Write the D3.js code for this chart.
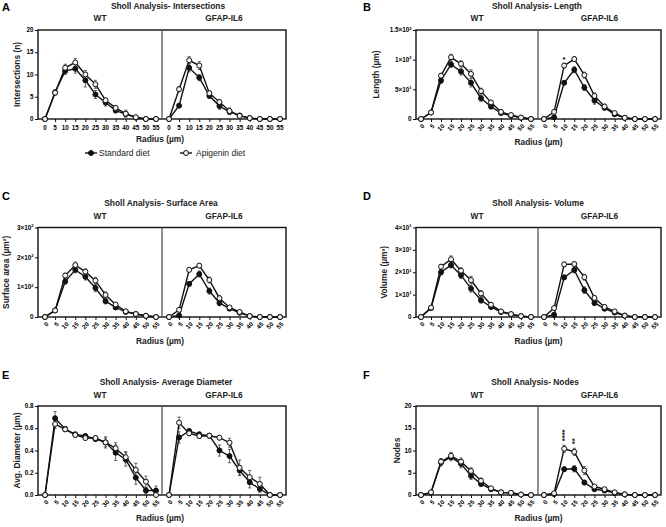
<!DOCTYPE html>
<html><head><meta charset="utf-8">
<script src="https://cdn.jsdelivr.net/npm/d3@7"></script>
<style>body{margin:0;background:#fff} svg{display:block} text{font-family:"Liberation Sans",Arial,sans-serif}</style>
</head><body><svg id="c" width="666" height="527"></svg>
<script>
// ---------- data ----------
const radius = ["0","5","10","15","20","25","30","35","40","45","50","55"];
const groups = ["WT","GFAP-IL6"];
const seriesNames = ["Standard diet","Apigenin diet"];

// A: Intersections
const intWTStd    = [0, 6.0, 10.8, 11.3, 8.7, 5.5, 3.7, 1.9, 1.1, 0.3, 0, 0];
const intWTStdErr = [0, 0.5, 0.8, 1.0, 1.5, 0.9, 0.8, 0.5, 0.5, 0.2, 0, 0];
const intWTApi    = [0, 5.9, 11.5, 12.7, 10.0, 7.8, 4.2, 2.5, 1.2, 0.4, 0, 0];
const intWTApiErr = [0, 0.5, 0.8, 0.9, 0.9, 0.9, 0.5, 0.5, 0.8, 0.3, 0, 0];
const intIL6Std    = [0, 3.0, 11.5, 9.3, 5.2, 2.9, 1.6, 0.8, 0.2, 0, 0, 0];
const intIL6StdErr = [0, 0.4, 0.9, 0.7, 0.6, 0.7, 0.5, 0.3, 0.1, 0, 0, 0];
const intIL6Api    = [0, 6.7, 13.2, 12.0, 5.8, 3.8, 1.8, 0.7, 0.2, 0, 0, 0];
const intIL6ApiErr = [0, 0.6, 0.8, 0.9, 0.5, 0.6, 0.7, 0.3, 0.1, 0, 0, 0];
const intTicks = [0, 5, 10, 15, 20];
const intTickLabels = ["0","5","10","15","20"];

// B: Length
const lenWTStd    = [0, 11, 65, 92, 80, 61, 35, 21, 10, 5.6, 2, 0];
const lenWTStdErr = [0, 1.5, 5, 5, 6, 7, 5, 4, 2, 1, 0.5, 0];
const lenWTApi    = [0, 11, 73, 104, 93, 76, 47, 28, 12, 6.7, 2.5, 0];
const lenWTApiErr = [0, 1.5, 4, 5, 5, 7, 5, 3, 2, 1, 0.5, 0];
const lenIL6Std    = [0, 3, 61, 83, 53, 31, 19, 8, 2, 0, 0, 0];
const lenIL6StdErr = [0, 1, 3, 5, 5, 6, 4, 2, 0.5, 0, 0, 0];
const lenIL6Api    = [0, 12, 90, 101, 74, 39, 21, 10, 2, 0, 0, 0];
const lenIL6ApiErr = [0, 2, 4, 4, 5, 5, 4, 2, 0.5, 0, 0, 0];
const lenTicks = [0, 50, 100, 150];
const lenTickLabels = ["0","5×10^1","1×10^2","1.5×10^2"];

// C: Surface area
const surWTStd    = [0, 22, 119, 158, 135, 97, 53, 32, 17, 10, 4, 0];
const surWTStdErr = [0, 4, 9, 10, 11, 12, 9, 6, 3, 2, 1, 0];
const surWTApi    = [0, 22, 139, 174, 152, 122, 74, 42, 19, 10, 4, 0];
const surWTApiErr = [0, 4, 8, 10, 9, 11, 10, 6, 3, 2, 1, 0];
const surIL6Std    = [0, 5, 111, 144, 87, 47, 28, 14, 3, 0, 0, 0];
const surIL6StdErr = [0, 2, 6, 10, 10, 9, 6, 3, 1, 0, 0, 0];
const surIL6Api    = [0, 24, 158, 172, 124, 63, 32, 17, 3, 0, 0, 0];
const surIL6ApiErr = [0, 4, 6, 7, 10, 8, 6, 4, 1, 0, 0, 0];
const surTicks = [0, 100, 200, 300];
const surTickLabels = ["0","1×10^2","2×10^2","3×10^2"];

// D: Volume
const volWTStd    = [0, 4, 20, 23.2, 18.7, 12.7, 7.5, 4.5, 2.2, 1.2, 0.4, 0];
const volWTStdErr = [0, 0.6, 1.2, 1.3, 1.5, 1.6, 1.3, 0.8, 0.5, 0.3, 0.1, 0];
const volWTApi    = [0, 4.2, 22.5, 25.8, 20.7, 16.5, 10.5, 5.5, 2.5, 1.3, 0.4, 0];
const volWTApiErr = [0, 0.6, 1.0, 1.5, 1.3, 1.7, 1.3, 0.8, 0.5, 0.3, 0.1, 0];
const volIL6Std    = [0, 1, 17.7, 21, 12, 6.3, 3.7, 2, 0.6, 0, 0, 0];
const volIL6StdErr = [0, 0.3, 1.0, 1.3, 1.5, 1.2, 0.8, 0.5, 0.2, 0, 0, 0];
const volIL6Api    = [0, 4, 23.5, 23.7, 17.8, 8.5, 4.5, 2.5, 0.6, 0, 0, 0];
const volIL6ApiErr = [0, 0.6, 1.0, 0.9, 1.3, 1.1, 1.0, 0.6, 0.2, 0, 0, 0];
const volTicks = [0, 10, 20, 30, 40];
const volTickLabels = ["0","1×10^1","2×10^1","3×10^1","4×10^1"];

// E: Average diameter
const diaWTStd    = [0, 0.69, 0.593, 0.545, 0.53, 0.503, 0.473, 0.38, 0.32, 0.156, 0.04, 0.04];
const diaWTStdErr = [0, 0.06, 0.02, 0.02, 0.02, 0.02, 0.05, 0.07, 0.06, 0.06, 0.03, 0.04];
const diaWTApi    = [0, 0.638, 0.59, 0.54, 0.512, 0.512, 0.473, 0.42, 0.34, 0.225, 0.12, 0];
const diaWTApiErr = [0, 0.04, 0.02, 0.02, 0.02, 0.02, 0.04, 0.05, 0.05, 0.06, 0.05, 0.03];
const diaIL6Std    = [0, 0.518, 0.575, 0.545, 0.533, 0.40, 0.35, 0.22, 0.114, 0.054, 0, 0];
const diaIL6StdErr = [0, 0.05, 0.02, 0.02, 0.02, 0.05, 0.06, 0.04, 0.05, 0.03, 0, 0];
const diaIL6Api    = [0, 0.65, 0.554, 0.53, 0.533, 0.515, 0.47, 0.245, 0.16, 0.1, 0, 0];
const diaIL6ApiErr = [0, 0.05, 0.02, 0.02, 0.02, 0.02, 0.04, 0.07, 0.06, 0.06, 0, 0];
const diaTicks = [0, 0.2, 0.4, 0.6, 0.8];
const diaTickLabels = ["0.0","0.2","0.4","0.6","0.8"];

// F: Nodes
const nodWTStd    = [0, 0.5, 7.3, 8.5, 7.0, 4.3, 2.5, 1.3, 0.6, 0.45, 0.1, 0];
const nodWTStdErr = [0, 0.2, 0.8, 0.8, 0.9, 0.8, 0.6, 0.3, 0.2, 0.2, 0.05, 0];
const nodWTApi    = [0, 0.6, 7.5, 8.8, 7.5, 5.4, 3.2, 1.5, 0.6, 0.5, 0.1, 0];
const nodWTApiErr = [0, 0.2, 0.7, 0.8, 0.8, 0.7, 0.6, 0.3, 0.2, 0.2, 0.05, 0];
const nodIL6Std    = [0, 0.2, 5.8, 5.9, 2.8, 1.3, 1.0, 0.45, 0.15, 0, 0, 0];
const nodIL6StdErr = [0, 0.1, 0.5, 0.7, 0.5, 0.3, 0.3, 0.2, 0.1, 0, 0, 0];
const nodIL6Api    = [0, 0.4, 10.4, 9.7, 5.5, 1.9, 1.3, 0.6, 0.15, 0, 0, 0];
const nodIL6ApiErr = [0, 0.2, 0.8, 0.8, 0.9, 0.4, 0.3, 0.2, 0.1, 0, 0, 0];
const nodTicks = [0, 5, 10, 15, 20];
const nodTickLabels = ["0","5","10","15","20"];

// significance marks (group, radius, label)
const lenStars = [["GFAP-IL6","10","*"]];
const nodStars = [["GFAP-IL6","10","****"],["GFAP-IL6","15","**"]];

// ---------- layout ----------
const cols = [
  {boxL:38, boxR:286, div:162, xr:[[45,156],[169,280]]},
  {boxL:416, boxR:661, div:538, xr:[[421,531],[544,655]]}
];
const rows = [
  {top:30, bottom:119, letterY:11, titleY:9, grpY:21, radY:145},
  {top:227.5, bottom:317, letterY:200, titleY:206, grpY:219, radY:344},
  {top:406, bottom:495, letterY:379, titleY:385, grpY:398, radY:521}
];

const panels = [
  {letter:"A", col:0, row:0, title:"Sholl Analysis- Intersections", titleX:168, yLabel:"Intersections (n)", yLabX:17,
   ticks:intTicks, tickLabels:intTickLabels, rotate:false, legend:true, stars:[],
   series:[[intWTStd,intWTStdErr,intWTApi,intWTApiErr],[intIL6Std,intIL6StdErr,intIL6Api,intIL6ApiErr]]},
  {letter:"B", col:1, row:0, title:"Sholl Analysis- Length", titleX:537, yLabel:"Length (µm)", yLabX:376,
   ticks:lenTicks, tickLabels:lenTickLabels, rotate:true, legend:false, stars:lenStars,
   series:[[lenWTStd,lenWTStdErr,lenWTApi,lenWTApiErr],[lenIL6Std,lenIL6StdErr,lenIL6Api,lenIL6ApiErr]]},
  {letter:"C", col:0, row:1, title:"Sholl Analysis- Surface Area", titleX:161, yLabel:"Surface area (µm²)", yLabX:6,
   ticks:surTicks, tickLabels:surTickLabels, rotate:true, legend:false, stars:[],
   series:[[surWTStd,surWTStdErr,surWTApi,surWTApiErr],[surIL6Std,surIL6StdErr,surIL6Api,surIL6ApiErr]]},
  {letter:"D", col:1, row:1, title:"Sholl Analysis- Volume", titleX:538, yLabel:"Volume (µm³)", yLabX:384,
   ticks:volTicks, tickLabels:volTickLabels, rotate:true, legend:false, stars:[],
   series:[[volWTStd,volWTStdErr,volWTApi,volWTApiErr],[volIL6Std,volIL6StdErr,volIL6Api,volIL6ApiErr]]},
  {letter:"E", col:0, row:2, title:"Sholl Analysis- Average Diameter", titleX:166, yLabel:"Avg. Diameter (µm)", yLabX:17,
   ticks:diaTicks, tickLabels:diaTickLabels, rotate:true, legend:false, stars:[],
   series:[[diaWTStd,diaWTStdErr,diaWTApi,diaWTApiErr],[diaIL6Std,diaIL6StdErr,diaIL6Api,diaIL6ApiErr]]},
  {letter:"F", col:1, row:2, title:"Sholl Analysis- Nodes", titleX:535, yLabel:"Nodes", yLabX:397,
   ticks:nodTicks, tickLabels:nodTickLabels, rotate:true, legend:false, stars:nodStars,
   series:[[nodWTStd,nodWTStdErr,nodWTApi,nodWTApiErr],[nodIL6Std,nodIL6StdErr,nodIL6Api,nodIL6ApiErr]]}
];

const svg = d3.select("#c");
const BOLD = 700;

function superLabel(sel, label, fs) {
  const parts = label.split("^");
  sel.append("tspan").text(parts[0]);
  if (parts[1]) sel.append("tspan").attr("font-size", fs*0.65).attr("dy", -fs*0.4).text(parts[1]);
}

panels.forEach(p => {
  const C = cols[p.col], R = rows[p.row];
  const g = svg.append("g");
  const y = d3.scaleLinear().domain([0, p.ticks[p.ticks.length-1]]).range([R.bottom, R.top]);

  // panel letter
  g.append("text").attr("x", p.col===0 ? 2 : 363).attr("y", R.letterY)
    .attr("font-size", 11).attr("font-weight", BOLD).text(p.letter);
  // title
  g.append("text").attr("x", p.titleX).attr("y", R.titleY).attr("text-anchor","middle")
    .attr("font-size", 8.4).attr("font-weight", BOLD).attr("fill","#222").text(p.title);

  // frame
  g.append("rect").attr("x", C.boxL).attr("y", R.top).attr("width", C.boxR-C.boxL).attr("height", R.bottom-R.top)
    .attr("fill","none").attr("stroke","#111").attr("stroke-width",1.4);
  g.append("line").attr("x1", C.div).attr("x2", C.div).attr("y1", R.top).attr("y2", R.bottom)
    .attr("stroke","#555").attr("stroke-width",1.3);

  // y axis
  const ya = g.append("g").attr("transform", `translate(${C.boxL},0)`)
    .call(d3.axisLeft(y).tickValues(p.ticks).tickSize(3).tickFormat(""));
  ya.select(".domain").remove();
  ya.selectAll(".tick line").attr("stroke","#111").attr("stroke-width",1);
  p.ticks.forEach((t, i) => {
    const tx = g.append("text").attr("x", C.boxL-4.5).attr("y", y(t)).attr("dy","0.35em")
      .attr("text-anchor","end").attr("font-size",6.3).attr("font-weight",BOLD);
    superLabel(tx, p.tickLabels[i], 6.3);
  });
  // y label
  g.append("text").attr("transform", `translate(${p.yLabX},${(R.top+R.bottom)/2}) rotate(-90)`)
    .attr("dy","0.35em").attr("text-anchor","middle").attr("font-size",8.4).attr("font-weight",BOLD).attr("fill","#222").text(p.yLabel);

  // x label
  g.append("text").attr("x", (C.boxL+C.boxR)/2 - (p.col===0 ? 2 : 0)).attr("y", p.rotate ? R.radY : 142)
    .attr("text-anchor","middle").attr("font-size",8.4).attr("font-weight",BOLD).attr("fill","#222").text("Radius (µm)");

  groups.forEach((grp, gi) => {
    const x = d3.scalePoint().domain(radius).range(C.xr[gi]);
    // group label
    g.append("text").attr("x", gi===0 ? (C.boxL+C.div)/2 : (C.div+C.boxR)/2).attr("y", R.grpY)
      .attr("text-anchor","middle").attr("font-size",8.3).attr("font-weight",BOLD).attr("fill","#222").text(grp);
    // x axis
    const xa = g.append("g").attr("transform", `translate(0,${R.bottom})`)
      .call(d3.axisBottom(x).tickSize(3).tickFormat(""));
    xa.select(".domain").remove();
    xa.selectAll(".tick line").attr("stroke","#111").attr("stroke-width",1);
    radius.forEach(r => {
      if (p.rotate) {
        g.append("text").attr("transform", `translate(${x(r)+2.5},${R.bottom+6}) rotate(-45)`)
          .attr("text-anchor","end").attr("dy","0.35em").attr("font-size",6.3).attr("font-weight",BOLD).text(r);
      } else {
        g.append("text").attr("x", x(r)).attr("y", R.bottom+11).attr("text-anchor","middle")
          .attr("font-size",6.3).attr("font-weight",BOLD).text(r);
      }
    });

    const [sv, se, av, ae] = p.series[gi];
    const sets = [[sv, se, "#111"], [av, ae, "#f4f4f4"]];
    // error bars
    sets.forEach(([vals, errs]) => {
      const eb = g.append("g").attr("stroke","#444").attr("stroke-width",0.8);
      radius.forEach((r, i) => {
        if (!errs[i]) return;
        const cx = x(r), y1 = y(vals[i]+errs[i]), y2 = y(Math.max(0, vals[i]-errs[i]));
        eb.append("line").attr("x1",cx).attr("x2",cx).attr("y1",y1).attr("y2",y2);
        eb.append("line").attr("x1",cx-1.6).attr("x2",cx+1.6).attr("y1",y1).attr("y2",y1);
        eb.append("line").attr("x1",cx-1.6).attr("x2",cx+1.6).attr("y1",y2).attr("y2",y2);
      });
    });
    const line = d3.line().x((d,i)=>x(radius[i])).y(d=>y(d));
    sets.forEach(([vals]) => {
      g.append("path").attr("d", line(vals)).attr("fill","none").attr("stroke","#111").attr("stroke-width",1.4);
    });
    sets.forEach(([vals, errs, fill]) => {
      g.selectAll(null).data(vals).enter().append("circle")
        .attr("cx",(d,i)=>x(radius[i])).attr("cy",d=>y(d)).attr("r",2.5)
        .attr("fill",fill).attr("stroke","#111").attr("stroke-width",1);
    });
    // stars
    p.stars.filter(s => s[0]===grp).forEach(([gname, r, lab]) => {
      const i = radius.indexOf(r);
      const top = y(av[i] + ae[i]);
      if (lab.length > 1) {
        g.append("text").attr("transform", `translate(${x(r)},${top-4}) rotate(-90)`)
          .attr("dy","0.35em").attr("font-size",7.5).attr("font-weight",BOLD).text(lab);
      } else {
        g.append("text").attr("x", x(r)).attr("y", top-1).attr("text-anchor","middle")
          .attr("font-size",8).attr("font-weight",BOLD).text(lab);
      }
    });
  });

  if (p.legend) {
    const items = [[seriesNames[0], "#111", 85, 97, 91, 99], [seriesNames[1], "#f4f4f4", 180, 192, 186, 196]];
    items.forEach(([name, fill, lx1, lx2, cx, tx]) => {
      g.append("line").attr("x1",lx1).attr("x2",lx2).attr("y1",153).attr("y2",153).attr("stroke","#111").attr("stroke-width",1.4);
      g.append("circle").attr("cx",cx).attr("cy",153).attr("r",2.5).attr("fill",fill).attr("stroke","#111");
      g.append("text").attr("x",tx).attr("y",153).attr("dy","0.35em").attr("font-size",8.5).attr("fill","#222").text(name);
    });
  }
});
</script></body></html>
